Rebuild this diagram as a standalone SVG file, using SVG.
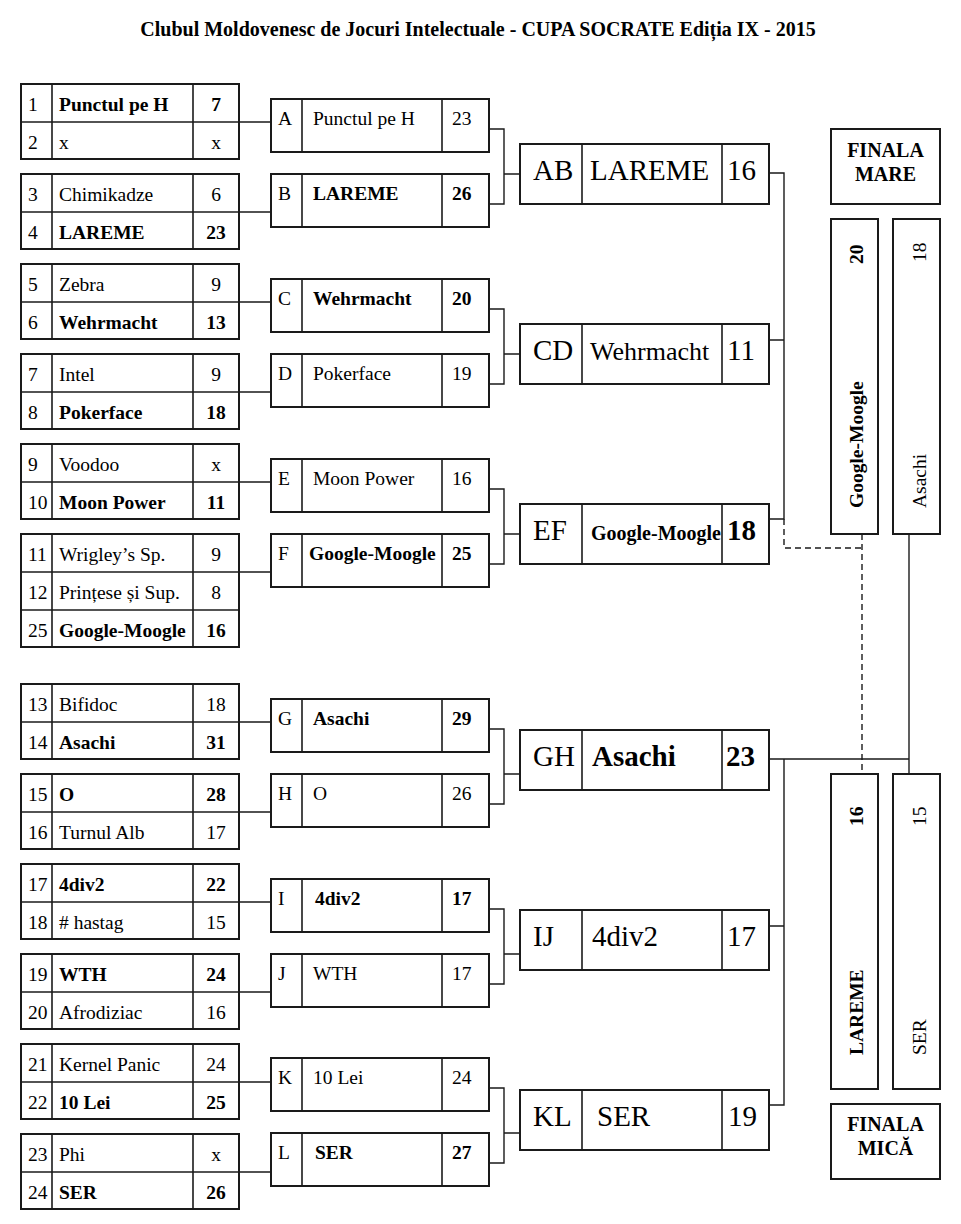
<svg xmlns="http://www.w3.org/2000/svg" width="961" height="1224" viewBox="0 0 961 1224">
<style>
rect{fill:#fff;stroke:#1a1a1a;stroke-width:2}
.node line{stroke:#1a1a1a;stroke-width:1.6}
text{font-family:"Liberation Serif","Times New Roman",serif;font-size:19.5px;fill:#000}
.b{font-weight:bold}
.c{text-anchor:middle}
.big{font-size:29px}
.fin{font-size:20px;font-weight:bold;text-anchor:middle}
#connectors path{fill:none;stroke:#1a1a1a;stroke-width:1.4}
#connectors .d{stroke-dasharray:6 4}
</style>
<text x="478" y="36" class="b c" style="font-size:20px">Clubul Moldovenesc de Jocuri Intelectuale - CUPA SOCRATE Ediția IX - 2015</text>

<g id="connectors">
<path d="M239,122H271M239,212H271M239,302H271M239,392H271M239,482H271M239,572H271M239,722H271M239,812H271M239,902H271M239,992H271M239,1082H271M239,1172H271"/>
<path d="M489,129H504V204H489M504,174H520"/>
<path d="M489,309H504V384H489M504,354H520"/>
<path d="M489,489H504V564H489M504,534H520"/>
<path d="M489,729H504V804H489M504,774H520"/>
<path d="M489,909H504V984H489M504,954H520"/>
<path d="M489,1088H504V1163H489M504,1133H520"/>
<path d="M769,173H784V519H769M769,340H784"/>
<path d="M769,759H909M784,759V1105H769M769,926H784"/>
<path d="M909,534V774"/>
<path class="d" d="M784,519V548H862M862,534V774"/>
</g>

<!-- Round 1 -->
<g id="t1" class="node"><rect x="21" y="84" width="218" height="75"/><line x1="21" y1="122" x2="239" y2="122"/><line x1="52" y1="84" x2="52" y2="159"/><line x1="193" y1="84" x2="193" y2="159"/>
<text x="28" y="111">1</text><text x="59" y="111" class="b">Punctul pe H</text><text x="216" y="111" class="b c">7</text>
<text x="28" y="149">2</text><text x="59" y="149">x</text><text x="216" y="149" class="c">x</text></g>
<g id="t2" class="node"><rect x="21" y="174" width="218" height="75"/><line x1="21" y1="212" x2="239" y2="212"/><line x1="52" y1="174" x2="52" y2="249"/><line x1="193" y1="174" x2="193" y2="249"/>
<text x="28" y="201">3</text><text x="59" y="201">Chimikadze</text><text x="216" y="201" class="c">6</text>
<text x="28" y="239">4</text><text x="59" y="239" class="b">LAREME</text><text x="216" y="239" class="b c">23</text></g>
<g id="t3" class="node"><rect x="21" y="264" width="218" height="75"/><line x1="21" y1="302" x2="239" y2="302"/><line x1="52" y1="264" x2="52" y2="339"/><line x1="193" y1="264" x2="193" y2="339"/>
<text x="28" y="291">5</text><text x="59" y="291">Zebra</text><text x="216" y="291" class="c">9</text>
<text x="28" y="329">6</text><text x="59" y="329" class="b">Wehrmacht</text><text x="216" y="329" class="b c">13</text></g>
<g id="t4" class="node"><rect x="21" y="354" width="218" height="75"/><line x1="21" y1="392" x2="239" y2="392"/><line x1="52" y1="354" x2="52" y2="429"/><line x1="193" y1="354" x2="193" y2="429"/>
<text x="28" y="381">7</text><text x="59" y="381">Intel</text><text x="216" y="381" class="c">9</text>
<text x="28" y="419">8</text><text x="59" y="419" class="b">Pokerface</text><text x="216" y="419" class="b c">18</text></g>
<g id="t5" class="node"><rect x="21" y="444" width="218" height="75"/><line x1="21" y1="482" x2="239" y2="482"/><line x1="52" y1="444" x2="52" y2="519"/><line x1="193" y1="444" x2="193" y2="519"/>
<text x="28" y="471">9</text><text x="59" y="471">Voodoo</text><text x="216" y="471" class="c">x</text>
<text x="28" y="509">10</text><text x="59" y="509" class="b">Moon Power</text><text x="216" y="509" class="b c">11</text></g>
<g id="t6" class="node"><rect x="21" y="534" width="218" height="113"/><line x1="21" y1="572" x2="239" y2="572"/><line x1="21" y1="610" x2="239" y2="610"/><line x1="52" y1="534" x2="52" y2="647"/><line x1="193" y1="534" x2="193" y2="647"/>
<text x="28" y="561">11</text><text x="59" y="561">Wrigley’s Sp.</text><text x="216" y="561" class="c">9</text>
<text x="28" y="599">12</text><text x="59" y="599">Prințese și Sup.</text><text x="216" y="599" class="c">8</text>
<text x="28" y="637">25</text><text x="59" y="637" class="b">Google-Moogle</text><text x="216" y="637" class="b c">16</text></g>
<g id="t7" class="node"><rect x="21" y="684" width="218" height="75"/><line x1="21" y1="722" x2="239" y2="722"/><line x1="52" y1="684" x2="52" y2="759"/><line x1="193" y1="684" x2="193" y2="759"/>
<text x="28" y="711">13</text><text x="59" y="711">Bifidoc</text><text x="216" y="711" class="c">18</text>
<text x="28" y="749">14</text><text x="59" y="749" class="b">Asachi</text><text x="216" y="749" class="b c">31</text></g>
<g id="t8" class="node"><rect x="21" y="774" width="218" height="75"/><line x1="21" y1="812" x2="239" y2="812"/><line x1="52" y1="774" x2="52" y2="849"/><line x1="193" y1="774" x2="193" y2="849"/>
<text x="28" y="801">15</text><text x="59" y="801" class="b">O</text><text x="216" y="801" class="b c">28</text>
<text x="28" y="839">16</text><text x="59" y="839">Turnul Alb</text><text x="216" y="839" class="c">17</text></g>
<g id="t9" class="node"><rect x="21" y="864" width="218" height="75"/><line x1="21" y1="902" x2="239" y2="902"/><line x1="52" y1="864" x2="52" y2="939"/><line x1="193" y1="864" x2="193" y2="939"/>
<text x="28" y="891">17</text><text x="59" y="891" class="b">4div2</text><text x="216" y="891" class="b c">22</text>
<text x="28" y="929">18</text><text x="59" y="929"># hastag</text><text x="216" y="929" class="c">15</text></g>
<g id="t10" class="node"><rect x="21" y="954" width="218" height="75"/><line x1="21" y1="992" x2="239" y2="992"/><line x1="52" y1="954" x2="52" y2="1029"/><line x1="193" y1="954" x2="193" y2="1029"/>
<text x="28" y="981">19</text><text x="59" y="981" class="b">WTH</text><text x="216" y="981" class="b c">24</text>
<text x="28" y="1019">20</text><text x="59" y="1019">Afrodiziac</text><text x="216" y="1019" class="c">16</text></g>
<g id="t11" class="node"><rect x="21" y="1044" width="218" height="75"/><line x1="21" y1="1082" x2="239" y2="1082"/><line x1="52" y1="1044" x2="52" y2="1119"/><line x1="193" y1="1044" x2="193" y2="1119"/>
<text x="28" y="1071">21</text><text x="59" y="1071">Kernel Panic</text><text x="216" y="1071" class="c">24</text>
<text x="28" y="1109">22</text><text x="59" y="1109" class="b">10 Lei</text><text x="216" y="1109" class="b c">25</text></g>
<g id="t12" class="node"><rect x="21" y="1134" width="218" height="75"/><line x1="21" y1="1172" x2="239" y2="1172"/><line x1="52" y1="1134" x2="52" y2="1209"/><line x1="193" y1="1134" x2="193" y2="1209"/>
<text x="28" y="1161">23</text><text x="59" y="1161">Phi</text><text x="216" y="1161" class="c">x</text>
<text x="28" y="1199">24</text><text x="59" y="1199" class="b">SER</text><text x="216" y="1199" class="b c">26</text></g>

<!-- Round 2 -->
<g id="rA" class="node"><rect x="271" y="99" width="218" height="53"/><line x1="302" y1="99" x2="302" y2="152"/><line x1="442" y1="99" x2="442" y2="152"/>
<text x="278" y="125">A</text><text x="313" y="125">Punctul pe H</text><text x="452" y="125">23</text></g>
<g id="rB" class="node"><rect x="271" y="174" width="218" height="53"/><line x1="302" y1="174" x2="302" y2="227"/><line x1="442" y1="174" x2="442" y2="227"/>
<text x="278" y="200">B</text><text x="313" y="200" class="b">LAREME</text><text x="452" y="200" class="b">26</text></g>
<g id="rC" class="node"><rect x="271" y="279" width="218" height="53"/><line x1="302" y1="279" x2="302" y2="332"/><line x1="442" y1="279" x2="442" y2="332"/>
<text x="278" y="305">C</text><text x="313" y="305" class="b">Wehrmacht</text><text x="452" y="305" class="b">20</text></g>
<g id="rD" class="node"><rect x="271" y="354" width="218" height="53"/><line x1="302" y1="354" x2="302" y2="407"/><line x1="442" y1="354" x2="442" y2="407"/>
<text x="278" y="380">D</text><text x="313" y="380">Pokerface</text><text x="452" y="380">19</text></g>
<g id="rE" class="node"><rect x="271" y="459" width="218" height="53"/><line x1="302" y1="459" x2="302" y2="512"/><line x1="442" y1="459" x2="442" y2="512"/>
<text x="278" y="485">E</text><text x="313" y="485">Moon Power</text><text x="452" y="485">16</text></g>
<g id="rF" class="node"><rect x="271" y="534" width="218" height="53"/><line x1="302" y1="534" x2="302" y2="587"/><line x1="442" y1="534" x2="442" y2="587"/>
<text x="278" y="560">F</text><text x="309" y="560" class="b">Google-Moogle</text><text x="452" y="560" class="b">25</text></g>
<g id="rG" class="node"><rect x="271" y="699" width="218" height="53"/><line x1="302" y1="699" x2="302" y2="752"/><line x1="442" y1="699" x2="442" y2="752"/>
<text x="278" y="725">G</text><text x="313" y="725" class="b">Asachi</text><text x="452" y="725" class="b">29</text></g>
<g id="rH" class="node"><rect x="271" y="774" width="218" height="53"/><line x1="302" y1="774" x2="302" y2="827"/><line x1="442" y1="774" x2="442" y2="827"/>
<text x="278" y="800">H</text><text x="313" y="800">O</text><text x="452" y="800">26</text></g>
<g id="rI" class="node"><rect x="271" y="879" width="218" height="53"/><line x1="302" y1="879" x2="302" y2="932"/><line x1="442" y1="879" x2="442" y2="932"/>
<text x="278" y="905">I</text><text x="315" y="905" class="b">4div2</text><text x="452" y="905" class="b">17</text></g>
<g id="rJ" class="node"><rect x="271" y="954" width="218" height="53"/><line x1="302" y1="954" x2="302" y2="1007"/><line x1="442" y1="954" x2="442" y2="1007"/>
<text x="278" y="980">J</text><text x="313" y="980">WTH</text><text x="452" y="980">17</text></g>
<g id="rK" class="node"><rect x="271" y="1058" width="218" height="53"/><line x1="302" y1="1058" x2="302" y2="1111"/><line x1="442" y1="1058" x2="442" y2="1111"/>
<text x="278" y="1084">K</text><text x="313" y="1084">10 Lei</text><text x="452" y="1084">24</text></g>
<g id="rL" class="node"><rect x="271" y="1133" width="218" height="53"/><line x1="302" y1="1133" x2="302" y2="1186"/><line x1="442" y1="1133" x2="442" y2="1186"/>
<text x="278" y="1159">L</text><text x="315" y="1159" class="b">SER</text><text x="452" y="1159" class="b">27</text></g>

<!-- Round 3 -->
<g id="rAB" class="node"><rect x="520" y="144" width="249" height="60"/><line x1="582" y1="144" x2="582" y2="204"/><line x1="722" y1="144" x2="722" y2="204"/>
<text x="533" y="180" class="big">AB</text><text x="590" y="180" class="big">LAREME</text><text x="727" y="180" class="big">16</text></g>
<g id="rCD" class="node"><rect x="520" y="324" width="249" height="60"/><line x1="582" y1="324" x2="582" y2="384"/><line x1="722" y1="324" x2="722" y2="384"/>
<text x="533" y="360" class="big">CD</text><text x="590" y="360" class="big" style="font-size:26px">Wehrmacht</text><text x="727" y="360" class="big">11</text></g>
<g id="rEF" class="node"><rect x="520" y="504" width="249" height="60"/><line x1="582" y1="504" x2="582" y2="564"/><line x1="722" y1="504" x2="722" y2="564"/>
<text x="533" y="540" class="big">EF</text><text x="591" y="540" class="b" style="font-size:20px">Google-Moogle</text><text x="727" y="540" class="big b">18</text></g>
<g id="rGH" class="node"><rect x="520" y="730" width="249" height="60"/><line x1="582" y1="730" x2="582" y2="790"/><line x1="722" y1="730" x2="722" y2="790"/>
<text x="533" y="766" class="big">GH</text><text x="592" y="766" class="big b">Asachi</text><text x="726" y="766" class="big b">23</text></g>
<g id="rIJ" class="node"><rect x="520" y="910" width="249" height="60"/><line x1="582" y1="910" x2="582" y2="970"/><line x1="722" y1="910" x2="722" y2="970"/>
<text x="533" y="946" class="big">IJ</text><text x="592" y="946" class="big">4div2</text><text x="727" y="946" class="big">17</text></g>
<g id="rKL" class="node"><rect x="520" y="1090" width="249" height="60"/><line x1="582" y1="1090" x2="582" y2="1150"/><line x1="722" y1="1090" x2="722" y2="1150"/>
<text x="533" y="1126" class="big">KL</text><text x="597" y="1126" class="big">SER</text><text x="728" y="1126" class="big">19</text></g>

<!-- Finals -->
<g id="finala-mare" class="node"><rect x="831" y="129" width="109" height="75"/>
<text x="885.5" y="157" class="fin">FINALA</text><text x="885.5" y="181" class="fin">MARE</text></g>
<g id="f-google" class="node"><rect x="831" y="219" width="47" height="315"/>
<text class="b" transform="translate(863,264) rotate(-90)">20</text>
<text class="b" transform="translate(863,508) rotate(-90)">Google-Moogle</text></g>
<g id="f-asachi" class="node"><rect x="893" y="219" width="47" height="315"/>
<text transform="translate(926,262) rotate(-90)">18</text>
<text transform="translate(926,508) rotate(-90)">Asachi</text></g>
<g id="f-lareme" class="node"><rect x="831" y="774" width="47" height="315"/>
<text class="b" transform="translate(863,826) rotate(-90)">16</text>
<text class="b" transform="translate(863,1055) rotate(-90)">LAREME</text></g>
<g id="f-ser" class="node"><rect x="893" y="774" width="47" height="315"/>
<text transform="translate(926,826) rotate(-90)">15</text>
<text transform="translate(926,1055) rotate(-90)">SER</text></g>
<g id="finala-mica" class="node"><rect x="831" y="1104" width="109" height="75"/>
<text x="885.5" y="1131" class="fin">FINALA</text><text x="885.5" y="1155" class="fin">MICĂ</text></g>
</svg>
